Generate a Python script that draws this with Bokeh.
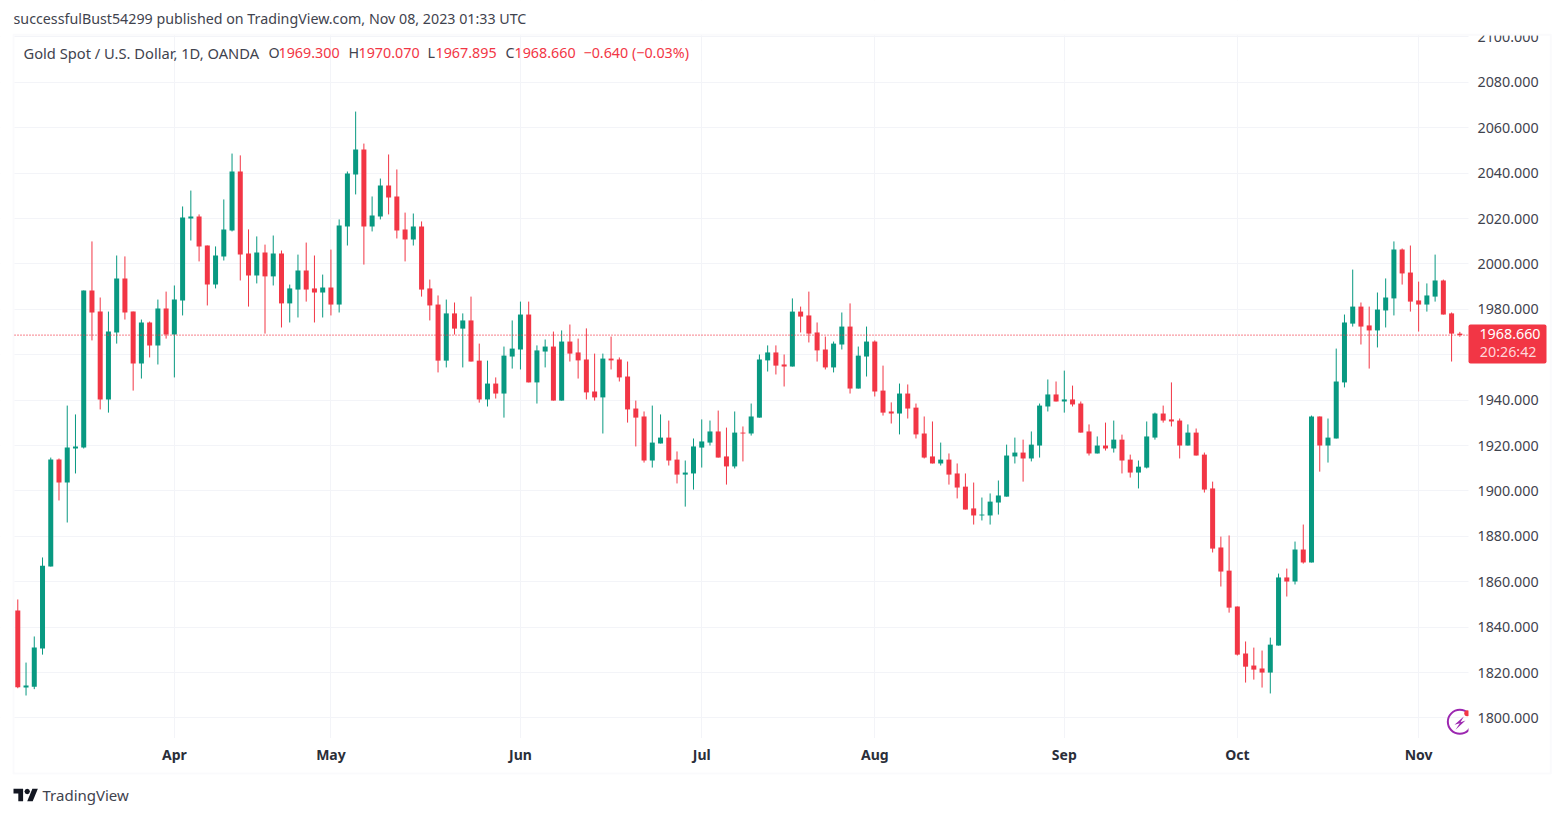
from bokeh.plotting import figure
from bokeh.embed import file_html
from bokeh.resources import INLINE
from bokeh.models import (ColumnDataSource, FixedTicker, Label, BoxAnnotation,
                          PolyAnnotation, NumeralTickFormatter)

opens = [1847.3,1813.4,1813.8,1830.6,1866.7,1913.8,1903.7,1918.7,1919.1,1988.3,
 1979.0,1940.3,1969.8,1993.6,1979.0,1956.1,1974.2,1964.1,1980.4,1968.9,
 1983.9,2020.0,2020.9,2008.1,1990.9,2003.3,2014.7,2040.7,2004.6,1994.9,
 2005.0,1994.5,2004.6,1982.6,1988.7,1997.1,1989.2,1987.4,1989.6,1982.1,
 2016.5,2039.4,2050.4,2016.5,2020.9,2034.5,2029.7,2015.2,2010.8,2016.5,
 1989.2,1982.1,1957.4,1978.2,1971.5,1975.1,1957.4,1940.3,1947.3,1942.9,
 1959.2,1962.3,1977.7,1947.8,1961.4,1963.6,1939.8,1965.8,1961.0,1957.9,
 1943.8,1941.2,1958.3,1957.9,1950.4,1936.3,1932.8,1913.4,1920.9,1923.5,
 1913.8,1907.2,1907.7,1919.1,1921.3,1926.2,1915.2,1910.8,1925.7,1925.3,
 1932.3,1957.5,1961.0,1955.7,1954.8,1979.0,1977.3,1969.8,1962.3,1954.4,
 1964.5,1972.4,1945.1,1959.2,1965.8,1944.2,1935.0,1934.1,1942.9,1936.7,
 1925.3,1915.2,1912.1,1913.8,1907.7,1901.9,1892.3,1889.2,1889.2,1894.9,
 1897.5,1915.2,1916.9,1914.3,1920.0,1937.2,1942.5,1939.4,1940.3,1938.5,
 1926.2,1916.5,1920.0,1918.7,1922.6,1913.8,1908.1,1910.3,1923.5,1934.1,
 1931.5,1931.0,1920.0,1925.7,1916.0,1901.1,1875.1,1864.9,1849.1,1828.4,
 1823.1,1821.8,1820.0,1831.9,1861.9,1860.1,1874.2,1868.5,1932.8,1920.0,
 1923.1,1947.8,1973.7,1981.2,1972.9,1970.7,1979.5,1984.8,2006.3,1996.2,
 1983.9,1982.1,1985.6,1992.7,1978.2,1969.3]

closes = [1813.5,1814.3,1831.0,1867.1,1913.8,1903.7,1919.1,1919.6,1988.3,1978.6,
 1940.3,1970.2,1993.6,1978.6,1956.1,1974.2,1964.1,1980.4,1968.9,1984.3,
 2020.4,2020.9,2007.7,1990.9,2003.7,2015.2,2040.7,2004.1,1994.9,2005.0,
 1994.5,2004.6,1982.6,1989.2,1997.1,1988.7,1987.4,1989.6,1982.1,2016.9,
 2039.8,2050.4,2016.5,2021.3,2034.5,2029.3,2014.7,2010.8,2016.5,1988.7,
 1981.7,1957.4,1978.2,1971.5,1975.1,1957.0,1940.3,1947.3,1942.9,1959.6,
 1962.7,1977.7,1947.8,1961.9,1963.6,1939.8,1965.8,1960.5,1957.5,1943.4,
 1941.2,1958.3,1957.5,1950.0,1935.9,1932.3,1913.4,1921.3,1923.5,1913.4,
 1907.2,1908.1,1919.6,1921.8,1926.2,1914.7,1910.8,1925.7,1925.3,1932.8,
 1957.9,1961.0,1955.2,1954.8,1979.0,1976.8,1969.3,1961.9,1954.4,1964.9,
 1972.4,1945.1,1959.6,1965.8,1943.8,1934.5,1934.1,1942.9,1936.3,1924.9,
 1914.7,1912.1,1913.8,1907.2,1901.5,1891.8,1889.2,1889.6,1895.3,1898.0,
 1915.6,1916.9,1914.3,1920.4,1937.6,1942.5,1939.4,1940.3,1938.1,1925.7,
 1916.5,1920.0,1918.7,1922.6,1913.4,1908.1,1910.7,1924.0,1934.1,1931.0,
 1930.6,1920.0,1925.7,1915.6,1900.6,1874.6,1864.5,1848.6,1827.9,1822.6,
 1821.3,1820.0,1832.3,1861.9,1860.1,1874.2,1868.5,1932.8,1920.0,1923.5,
 1948.2,1974.2,1981.2,1972.4,1970.7,1979.9,1985.2,2006.3,1995.8,1983.4,
 1982.1,1986.1,1992.7,1977.7,1969.3,1968.66]

highs = [1852.2,1824.4,1835.9,1870.7,1914.7,1914.3,1937.6,1933.7,1988.3,2009.9,
 1985.2,1979.0,2003.7,2003.3,1979.0,1975.5,1974.6,1984.3,1987.8,1990.5,
 2025.3,2032.3,2021.8,2008.1,2007.7,2028.4,2048.6,2047.8,2015.2,2012.1,
 2008.5,2012.5,2005.9,1990.9,2004.1,2009.4,2003.7,1995.3,2006.3,2019.6,
 2040.7,2067.1,2053.0,2029.7,2037.6,2048.2,2041.6,2022.6,2022.2,2018.7,
 1993.1,1986.1,1984.3,1983.0,1978.2,1985.6,1964.9,1957.4,1950.0,1963.6,
 1975.1,1983.4,1983.4,1964.1,1966.7,1970.2,1970.7,1973.3,1967.1,1971.6,
 1960.5,1960.5,1968.0,1958.8,1957.0,1939.8,1935.0,1937.6,1933.7,1931.0,
 1917.4,1913.4,1923.1,1931.5,1931.0,1935.4,1927.9,1935.0,1928.4,1938.5,
 1960.1,1964.1,1964.1,1960.1,1984.8,1981.2,1987.8,1974.2,1968.0,1965.8,
 1978.6,1982.6,1963.6,1972.4,1966.3,1955.2,1939.0,1947.3,1946.9,1938.5,
 1932.8,1930.6,1921.3,1916.5,1912.1,1907.7,1903.7,1897.1,1898.9,1904.6,
 1920.4,1923.5,1922.6,1926.2,1938.5,1949.1,1948.2,1953.0,1946.4,1939.4,
 1929.3,1924.0,1930.1,1931.0,1924.8,1916.0,1913.4,1930.6,1934.5,1937.6,
 1947.8,1931.9,1929.3,1927.5,1916.9,1904.1,1879.9,1880.4,1849.1,1833.7,
 1831.0,1829.7,1835.4,1863.6,1865.8,1877.7,1885.2,1933.2,1932.8,1931.9,
 1962.7,1977.7,1997.5,1983.0,1981.2,1987.4,1993.6,2009.9,2006.8,2008.1,
 1992.2,1991.4,2004.1,1993.1,1978.6,1970.07]

lows = [1813.1,1809.9,1812.7,1827.9,1866.7,1895.8,1886.1,1907.7,1918.7,1966.3,
 1935.9,1934.5,1964.9,1975.5,1944.2,1949.5,1958.8,1955.7,1967.1,1950.0,
 1977.3,2010.3,2001.1,1981.7,1989.2,2001.5,2014.3,1992.7,1981.2,1991.4,
 1969.3,1990.5,1972.0,1974.2,1976.4,1983.4,1974.2,1976.4,1977.3,1978.6,
 2008.1,2030.6,1999.7,2014.3,2019.6,2021.8,2011.2,2001.1,2008.1,1985.6,
 1975.1,1952.2,1954.4,1968.9,1954.4,1957.0,1938.9,1937.2,1940.7,1932.3,
 1953.9,1953.5,1947.8,1938.5,1954.4,1939.8,1939.8,1957.0,1949.5,1940.3,
 1939.8,1925.3,1953.5,1948.2,1930.1,1919.6,1912.5,1910.3,1920.9,1911.2,
 1903.3,1893.1,1900.6,1910.3,1920.0,1914.7,1902.8,1909.9,1913.0,1924.4,
 1932.3,1952.6,1951.3,1946.0,1954.8,1969.8,1965.4,1957.0,1953.5,1952.2,
 1962.3,1942.9,1945.1,1950.4,1941.6,1933.2,1929.7,1924.9,1931.9,1923.1,
 1914.3,1912.1,1911.2,1902.8,1896.7,1891.8,1885.2,1887.0,1885.2,1889.6,
 1897.5,1912.1,1904.1,1913.0,1914.7,1935.0,1939.4,1934.5,1937.2,1925.7,
 1915.6,1916.5,1917.8,1916.9,1907.7,1905.9,1901.1,1909.9,1922.6,1930.1,
 1928.4,1914.3,1920.0,1915.6,1899.3,1872.9,1857.9,1846.4,1827.5,1815.6,
 1816.9,1813.4,1810.8,1831.9,1853.5,1858.8,1868.0,1868.5,1908.5,1912.5,
 1923.1,1945.6,1972.4,1964.5,1953.9,1963.2,1972.0,1977.3,1990.9,1979.0,
 1970.2,1979.0,1983.4,1977.7,1957.0,1967.895]

month_names = ["Apr", "May", "Jun", "Jul", "Aug", "Sep", "Oct", "Nov"]
month_bars = [19, 38, 61, 83, 104, 127, 148, 170]
price_ticks = list(range(1800, 2101, 20))
last_price = 1968.66

GREEN, RED, GRID, EDGE, INK = "#089981", "#F23645", "#F3F4F8", "#EEF0F6", "#131722"
MUTED = "#3F434E"
FONT = "Noto Sans"

# visible price pane, in chart units
pane_x = (-0.40, 175.93)
pane_y = (1791.4, 2100.6)

bars = list(range(len(opens)))
source = ColumnDataSource(dict(
    x=bars, o=opens, c=closes, h=highs, l=lows,
    color=[GREEN if c >= o else RED for o, c in zip(opens, closes)],
    top=[max(o, c) for o, c in zip(opens, closes)],
    bottom=[min(o, c) for o, c in zip(opens, closes)],
))

# The frame covers the whole canvas so that the header, footer and price tag can sit
# round the pane; both axes are pinned to the pane edges with fixed_location.
p = figure(width=1555, height=809, output_backend="svg", toolbar_location=None,
           x_range=(-2.099, 186.61), y_range=(1759.69, 2116.02),
           y_axis_location="right", min_border=0)
p.outline_line_color = None
p.background_fill_color = "white"
p.border_fill_color = "white"

p.xaxis.ticker = FixedTicker(ticks=month_bars)
p.xaxis.major_label_overrides = {b: n for b, n in zip(month_bars, month_names)}
p.yaxis.ticker = FixedTicker(ticks=price_ticks)
p.yaxis.formatter = NumeralTickFormatter(format="0.000")
p.xaxis.fixed_location = pane_y[0]
p.yaxis.fixed_location = pane_x[1]
for ax in (p.xaxis[0], p.yaxis[0]):
    ax.axis_line_color = None
    ax.major_tick_line_color = None
    ax.minor_tick_line_color = None
    ax.major_tick_out = 0
    ax.major_tick_in = 0
    ax.major_label_text_font = FONT
p.xaxis.major_label_text_font_size = "14px"
p.yaxis.major_label_text_font_size = "14.3px"
p.xaxis.major_label_text_color = "#2A2E39"
p.xaxis.major_label_text_font_style = "bold"
p.xaxis.major_label_standoff = 7
p.yaxis.major_label_text_color = MUTED
p.yaxis.major_label_standoff = 10
p.xgrid.ticker = FixedTicker(ticks=month_bars)
p.ygrid.ticker = FixedTicker(ticks=price_ticks)
p.xgrid.grid_line_color = GRID
p.ygrid.grid_line_color = GRID

p.segment("x", "l", "x", "h", source=source, color="color", line_width=1)
p.vbar("x", 0.607, "bottom", "top", source=source, fill_color="color", line_color=None)
p.segment([pane_x[0]], [last_price], [pane_x[1]], [last_price], line_color=RED,
          line_dash="1 2", line_width=1.2)

# badge, cut off at the pane edge by the white box below
p.scatter([175], [1798.3], size=24, marker="circle", fill_color=None,
          line_color="#9C27B0", line_width=2)
p.scatter([175.9], [1802.1], size=6, marker="circle", fill_color=RED, line_color=None)


def text(s, x, y, color=MUTED, size="14.3px", align="left", style="normal"):
    p.add_layout(Label(x=x, y=y, x_units="canvas", y_units="canvas", text=s,
                       text_font=FONT, text_font_size=size, text_color=color,
                       text_align=align, text_baseline="middle", text_font_style=style))


def box(l, t, r, b, fill=None, line=None, width=0, radius=0, level="annotation"):
    p.add_layout(BoxAnnotation(left=l, right=r, top=t, bottom=b,
                               left_units="canvas", right_units="canvas",
                               top_units="canvas", bottom_units="canvas",
                               fill_color=fill, fill_alpha=1 if fill else 0,
                               line_color=line, line_width=width, border_radius=radius,
                               level=level))


def poly(xs, ys, color):
    p.add_layout(PolyAnnotation(xs=xs, ys=ys, xs_units="canvas", ys_units="canvas",
                                fill_color=color, fill_alpha=1, line_color=None))


# white masks that stop the grid at the edges of the pane
box(0, 0, 1555, 35, fill="white", level="underlay")
box(0, 737.5, 1555, 809, fill="white", level="underlay")
box(0, 0, 14, 809, fill="white", level="underlay")
box(1468, 0, 1555, 809, fill="white", level="underlay")

box(1468, 700, 1477, 740, fill="white")
box(1468, 24, 1549, 35, fill="white")
box(13, 34.2, 1550.3, 773, line=EDGE, width=2)

# bolt in the badge
poly([1463.3, 1454, 1459.3, 1455, 1465, 1460], [716, 724.3, 722.7, 729.3, 720, 721.7], "#9C27B0")

# last-price tag
box(1468, 324, 1546, 363, fill=RED, radius=2)
text("1968.660", 1540, 333, color="white", align="right")
text("20:26:42", 1536, 350.5, color="#FFD6DB", align="right")

text("successfulBust54299 published on TradingView.com, Nov 08, 2023 01:33 UTC", 13, 17.5, size="14.25px")
text("Gold Spot / U.S. Dollar, 1D, OANDA", 23, 52, size="14.7px")
for s, x, c in [("O", 268, MUTED), ("1969.300", 278, RED), ("H", 348, MUTED), ("1970.070", 358, RED),
                ("L", 427, MUTED), ("1967.895", 435, RED), ("C", 505, MUTED), ("1968.660", 514, RED),
                ("\u22120.640 (\u22120.03%)", 583, RED)]:
    text(s, x, 52, color=c)

# TradingView wordmark
poly([13 + 0.686 * v for v in [14, 7, 7, 0, 0, 14]],
     [788.3 + 0.686 * (v - 4) for v in [22, 22, 11, 11, 4, 4]], INK)
poly([13 + 0.686 * v for v in [28, 20, 27.5, 35.5]],
     [788.3 + 0.686 * (v - 4) for v in [22, 22, 4, 4]], INK)
poly([13 + 0.686 * v for v in [20, 22.8, 24, 22.8, 20, 17.2, 16, 17.2]],
     [788.3 + 0.686 * (v - 4) for v in [4, 5.2, 8, 10.8, 12, 10.8, 8, 5.2]], INK)
text("TradingView", 42, 794, size="15px")

open("out.html", "w").write(file_html(p, INLINE))
